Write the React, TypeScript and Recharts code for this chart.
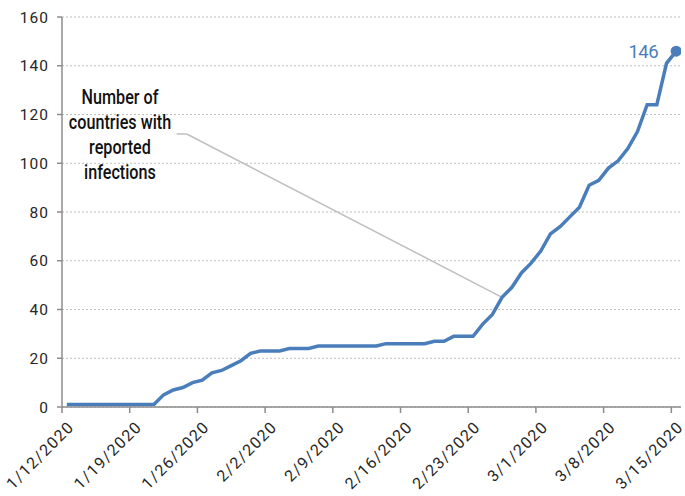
import React from 'react';
import { LineChart, Line, XAxis, YAxis, CartesianGrid, ReferenceLine } from 'recharts';

const startDateUTC = Date.UTC(2020, 0, 12);
const values = [
  1, 1, 1, 1, 1, 1, 1, 1, 1, 1,
  5, 7, 8, 10, 11, 14, 15, 17, 19, 22,
  23, 23, 23, 24, 24, 24, 25, 25, 25, 25,
  25, 25, 25, 26, 26, 26, 26, 26, 27, 27,
  29, 29, 29, 34, 38, 45, 49, 55, 59, 64,
  71, 74, 78, 82, 91, 93, 98, 101, 106, 113,
  124, 124, 141, 146,
];
const dates = values.map((_, i) => {
  const d = new Date(startDateUTC + i * 86400000);
  return `${d.getUTCMonth() + 1}/${d.getUTCDate()}/${d.getUTCFullYear()}`;
});
const xTickDays = [0, 7, 14, 21, 28, 35, 42, 49, 56, 63];
const xTickLabels = ['1/12/2020', '1/19/2020', '1/26/2020', '2/2/2020', '2/9/2020', '2/16/2020', '2/23/2020', '3/1/2020', '3/8/2020', '3/15/2020'];
const yTicks = [0, 20, 40, 60, 80, 100, 120, 140, 160];
const annotationLines = ['Number of', 'countries with', 'reported', 'infections'];
const leaderStart = { x: 11.86, y: 112 };
const leaderBend = { x: 12.9, y: 112 };
const leaderEnd = { x: 45.5, y: 45 };

const data = values.map((v, i) => ({ x: i + 0.5, date: dates[i], value: v }));

const BLUE = '#4a7ebb';
const FONT = 'Roboto';

const XTick = (props: any) => {
  const { x, y, payload } = props;
  const idx = xTickDays.indexOf(payload.value);
  return (
    <g transform={`translate(${x},${y})`}>
      <text
        x={0}
        y={0}
        dy={18.4}
        dx={0}
        textAnchor="end"
        transform="rotate(-45)"
        fill="#262626"
        fontSize={16}
        letterSpacing={1.3}
        fontFamily={FONT}
      >
        {xTickLabels[idx]}
      </text>
    </g>
  );
};

const lastIndex = values.length - 1;

const EndDot = (props: any) => {
  const { cx, cy, index } = props;
  if (index !== lastIndex) return <g key={`d${index}`} />;
  return <circle key={`d${index}`} cx={cx} cy={cy} r={5.5} fill={BLUE} />;
};

const EndLabel = (props: any) => {
  const { x, y, index, value } = props;
  if (index !== lastIndex) return <g key={`l${index}`} />;
  return (
    <text key={`l${index}`} x={x - 18} y={y + 7} textAnchor="end" fill={BLUE} fontSize={18.5} letterSpacing={-0.5} fontFamily={FONT}>
      {value}
    </text>
  );
};

export default function App() {
  return (
    <div style={{ position: 'absolute', left: 0, top: 0, width: 685, height: 496, background: '#fff' }}>
      <LineChart width={685} height={496} data={data} margin={{ top: 17, right: 4, bottom: 0, left: 0 }}>
        <CartesianGrid horizontal vertical={false} stroke="#bfbfbf" strokeDasharray="2 2" />
        <XAxis
          dataKey="x"
          type="number"
          domain={[0, 64]}
          ticks={xTickDays}
          interval={0}
          height={89}
          tick={<XTick />}
          tickSize={6}
          stroke="#8c8c8c"
          strokeWidth={1.5}
          allowDataOverflow
        />
        <YAxis
          type="number"
          domain={[0, 160]}
          ticks={yTicks}
          interval={0}
          width={62}
          tickSize={5}
          tickMargin={8}
          stroke="#8c8c8c"
          strokeWidth={1.5}
          tick={{ fill: '#262626', fontSize: 15.5, fontFamily: FONT, letterSpacing: 1 }}
        />
        <ReferenceLine segment={[leaderStart, leaderBend]} stroke="#bfbfbf" strokeWidth={1.5} ifOverflow="visible" />
        <ReferenceLine segment={[leaderBend, leaderEnd]} stroke="#bfbfbf" strokeWidth={1.5} ifOverflow="visible" />
        <Line
          type="linear"
          dataKey="value"
          stroke={BLUE}
          strokeWidth={3.5}
          dot={<EndDot />}
          activeDot={false}
          label={<EndLabel />}
          isAnimationActive={false}
        />
      </LineChart>
      <div
        style={{
          position: 'absolute',
          left: 0,
          top: 85,
          width: 240,
          textAlign: 'center',
          fontFamily: 'Roboto',
          fontWeight: 500,
          fontSize: 21,
          lineHeight: '25px',
          color: '#111',
          transform: 'scaleX(0.77)',
          transformOrigin: '120px 0',
          whiteSpace: 'nowrap',
        }}
      >
        {annotationLines.map((l) => (
          <div key={l}>{l}</div>
        ))}
      </div>
    </div>
  );
}
